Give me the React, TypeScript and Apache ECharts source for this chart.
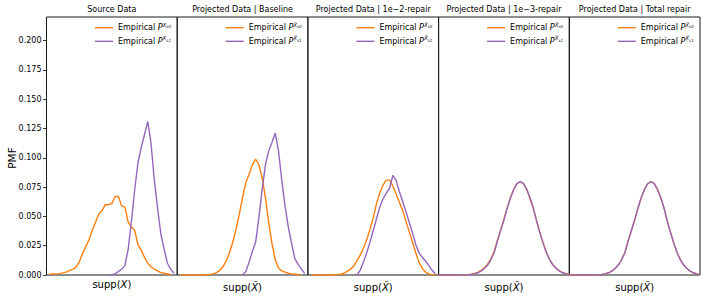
import React, { useEffect, useRef } from "react";
import * as echarts from "echarts";

// x positions on the (unlabelled) support axis, 0..100
const support = [
  0, 2.5, 5, 7.5, 10, 12.5, 15, 17.5, 20, 22.5, 25, 27.5, 30, 32.5, 35, 37.5, 40, 42.5, 45, 47.5, 50,
  52.5, 55, 57.5, 60, 62.5, 65, 67.5, 70, 72.5, 75, 77.5, 80, 82.5, 85, 87.5, 90, 92.5, 95, 97.5, 100,
];

const panelTitles = [
  "Source Data",
  "Projected Data | Baseline",
  "Projected Data | 1e\u22122-repair",
  "Projected Data | 1e\u22123-repair",
  "Projected Data | Total repair",
];

const yTicks = [0, 0.025, 0.05, 0.075, 0.1, 0.125, 0.15, 0.175, 0.2];

const sourceS0 = [
  null, 0.0008, 0.001, 0.001, 0.0012, 0.0018, 0.0025, 0.0038, 0.0048, 0.0065, 0.011, 0.018, 0.024, 0.03, 0.038,
  0.045, 0.052, 0.055, 0.06, 0.06, 0.061, 0.067, 0.067, 0.059, 0.058, 0.045, 0.041, 0.038, 0.026, 0.021, 0.015,
  0.01, 0.007, 0.005, 0.0035, 0.002, 0.0015, 0.001, 0.0003, null, null,
];
const sourceS1 = [
  null, null, null, null, null, null, null, null, null, null, null, null, null, null, null, null, null, null, null,
  0, 0.0002, 0.001, 0.003, 0.005, 0.008, 0.022, 0.046, 0.073, 0.096, 0.109, 0.12, 0.131, 0.112, 0.081, 0.057,
  0.035, 0.022, 0.01, 0.005, 0.0015, null,
];

const baselineS0 = [
  null, 0, 0, 0, 0, 0, 0, 0, 0, 0.0002, 0.0005, 0.001, 0.002, 0.0038, 0.007, 0.012, 0.019, 0.028, 0.039, 0.052,
  0.066, 0.079, 0.086, 0.094, 0.099, 0.094, 0.083, 0.066, 0.045, 0.027, 0.013, 0.006, 0.0035, 0.0025, 0.0015,
  0.001, 0.0007, 0.0004, 0.0002, null, null,
];
const baselineS1 = [
  null, null, null, null, null, null, null, null, null, null, null, null, null, null, null, null, null, null, null,
  null, 0, 0.003, 0.011, 0.02, 0.028, 0.049, 0.073, 0.094, 0.106, 0.113, 0.121, 0.106, 0.081, 0.059, 0.041,
  0.027, 0.014, 0.009, 0.005, 0.0015, null,
];

const repair2S0 = [
  null, 0, 0, 0, 0, 0, 0, 0, 0, 0.0003, 0.0006, 0.0015, 0.003, 0.005, 0.0075, 0.012, 0.017, 0.023, 0.03, 0.039,
  0.049, 0.061, 0.07, 0.077, 0.081, 0.081, 0.076, 0.069, 0.062, 0.055, 0.046, 0.037, 0.028, 0.019, 0.011, 0.0055,
  0.0025, 0.001, 0.0003, 0, null,
];
const repair2S1 = [
  null, null, null, null, null, null, null, null, null, null, null, null, null, null, null, 0, 0.004, 0.011, 0.019,
  0.028, 0.038, 0.048, 0.058, 0.065, 0.07, 0.074, 0.085, 0.081, 0.071, 0.063, 0.054, 0.045, 0.036, 0.026, 0.019,
  0.015, 0.012, 0.008, 0.004, 0.001, null,
];

const repair3S0 = [
  0, 0, 0, 0, 0, 0, 0, 0.0001, 0.0001, 0.0003, 0.0007, 0.0013, 0.0023, 0.004, 0.0062, 0.0092, 0.0138, 0.02,
  0.0297, 0.0385, 0.0478, 0.0575, 0.0662, 0.0732, 0.0782, 0.0796, 0.0778, 0.0728, 0.0648, 0.0566, 0.0462,
  0.0362, 0.0272, 0.0192, 0.0133, 0.0088, 0.0058, 0.0035, 0.0021, 0.0011, 0.0005,
];
const repair3S1 = [
  0, 0, 0, 0, 0, 0, 0, 0, 0.0001, 0.0002, 0.0005, 0.001, 0.0019, 0.0033, 0.0055, 0.0085, 0.013, 0.019, 0.029,
  0.038, 0.047, 0.057, 0.066, 0.073, 0.078, 0.0798, 0.078, 0.073, 0.066, 0.057, 0.046, 0.036, 0.027, 0.019, 0.013,
  0.0085, 0.0055, 0.0033, 0.0019, 0.001, 0.0005,
];

const totalS0 = [
  0, 0, 0, 0, 0, 0, 0, 0, 0.0001, 0.0002, 0.0005, 0.001, 0.0019, 0.0033, 0.0055, 0.0085, 0.013, 0.019, 0.029,
  0.038, 0.047, 0.057, 0.066, 0.073, 0.078, 0.0798, 0.078, 0.073, 0.066, 0.057, 0.046, 0.036, 0.027, 0.019, 0.013,
  0.0085, 0.0055, 0.0033, 0.0019, 0.001, 0.0005,
];
const totalS1 = [
  0, 0, 0, 0, 0, 0, 0, 0, 0.0001, 0.0002, 0.0005, 0.001, 0.0019, 0.0033, 0.0055, 0.0085, 0.013, 0.019, 0.029,
  0.038, 0.047, 0.057, 0.066, 0.073, 0.078, 0.0798, 0.078, 0.073, 0.066, 0.057, 0.046, 0.036, 0.027, 0.019, 0.013,
  0.0085, 0.0055, 0.0033, 0.0019, 0.001, 0.0005,
];

const panelSeries = [
  [sourceS0, sourceS1],
  [baselineS0, baselineS1],
  [repair2S0, repair2S1],
  [repair3S0, repair3S1],
  [totalS0, totalS1],
];

const ORANGE = "#ff7f0e";
const PURPLE = "#9467bd";
const FONT = "DejaVu Sans";

export default function App() {
  const ref = useRef<HTMLDivElement>(null);
  useEffect(() => {
    if (!ref.current) return;
    const chart = echarts.init(ref.current, null, { renderer: "svg" });
    const L0 = 46.5;
    const W = 130.7;
    const TOP = 17;
    const H = 258;
    const lefts = [0, 1, 2, 3, 4].map((i) => L0 + i * W);
    const YMAX = 0.2202;

    const grids = lefts.map((l) => ({
      left: l,
      top: TOP,
      width: W,
      height: H,
      show: true,
      borderColor: "#1a1a1a",
      borderWidth: 1,
      backgroundColor: "transparent",
    }));

    const xAxes = lefts.map((_, i) => ({
      type: "value",
      gridIndex: i,
      min: 0,
      max: 100,
      axisLine: { show: false },
      axisTick: { show: false },
      axisLabel: { show: false },
      splitLine: { show: false },
      name: i === 0 ? "supp({it|X})" : "supp({it|X\u0303})",
      nameLocation: "middle",
      nameGap: i === 0 ? 4 : 7,
      nameTextStyle: {
        fontFamily: FONT,
        fontSize: 10,
        color: "#000",
        rich: { it: { fontFamily: FONT, fontSize: 10, fontStyle: "italic", color: "#000" } },
      },
    }));

    const yAxes = lefts.map((_, i) => ({
      type: "value",
      gridIndex: i,
      min: 0,
      max: YMAX,
      axisLine: { show: false },
      splitLine: { show: false },
      axisTick: {
        show: i === 0,
        length: 3.5,
        customValues: yTicks,
        lineStyle: { color: "#000", width: 0.8 },
      },
      axisLabel: {
        show: i === 0,
        customValues: yTicks,
        margin: 5,
        fontFamily: FONT,
        fontSize: 8,
        color: "#000",
        formatter: (v: number) => v.toFixed(3),
      },
    }));

    const series: any[] = [];
    panelSeries.forEach((pair, i) => {
      const names = i === 0 ? ["src0", "src1"] : ["proj0", "proj1"];
      pair.forEach((vals, k) => {
        const color = k === 0 ? ORANGE : PURPLE;
        series.push({
          type: "line",
          name: names[k],
          xAxisIndex: i,
          yAxisIndex: i,
          data: support.map((x, j) => [x, vals[j]]),
          showSymbol: false,
          symbol: "none",
          color,
          itemStyle: { color },
          lineStyle: { color, width: 1.4 },
          connectNulls: false,
          z: 3 + k,
        });
      });
    });

    const legendRich = {
      i: { fontFamily: FONT, fontSize: 8, fontStyle: "italic", color: "#000", lineHeight: 12 },
      sup: { fontFamily: FONT, fontSize: 5.5, fontStyle: "italic", color: "#000", lineHeight: 7, verticalAlign: "top" },
      sub: { fontFamily: FONT, fontSize: 4, fontStyle: "italic", color: "#000", lineHeight: 9, verticalAlign: "top", padding: [3, 0, 0, 0] },
    };
    const legends = lefts.map((l, i) => ({
      left: l + 48.5,
      top: 21.7,
      orient: "vertical",
      padding: 0,
      itemGap: 1.6,
      itemWidth: 18,
      itemHeight: 1.4,
      icon: "rect",
      selectedMode: false,
      data: i === 0 ? ["src0", "src1"] : ["proj0", "proj1"],
      formatter: (name: string) => {
        const sym = name.startsWith("src") ? "X" : "X\u0303";
        const s = name.endsWith("0") ? "s0" : "s1";
        return `Empirical {i|P}{sup|${sym}}{sub|${s}}`;
      },
      textStyle: { fontFamily: FONT, fontSize: 8, color: "#000", lineHeight: 12, rich: legendRich },
    }));

    const graphics: any[] = panelTitles.map((t, i) => ({
      type: "text",
      x: lefts[i] + W / 2,
      y: 9.5,
      style: {
        text: t,
        fontFamily: FONT,
        fontSize: 8,
        fill: "#000",
        textAlign: "center",
        textVerticalAlign: "middle",
        align: "center",
        verticalAlign: "middle",
      },
    }));
    graphics.push({
      type: "text",
      x: 11.5,
      y: 158,
      rotation: Math.PI / 2,
      style: {
        text: "PMF",
        fontFamily: FONT,
        fontSize: 10.5,
        fill: "#000",
        textAlign: "center",
        textVerticalAlign: "middle",
        align: "center",
        verticalAlign: "middle",
      },
    });

    chart.setOption({
      animation: false,
      backgroundColor: "#fff",
      textStyle: { fontFamily: FONT },
      grid: grids,
      xAxis: xAxes,
      yAxis: yAxes,
      legend: legends,
      series,
      graphic: graphics,
    });
    return () => chart.dispose();
  }, []);
  return (
    <div
      ref={ref}
      style={{ position: "fixed", left: 0, top: 0, width: 706, height: 298 }}
    />
  );
}
